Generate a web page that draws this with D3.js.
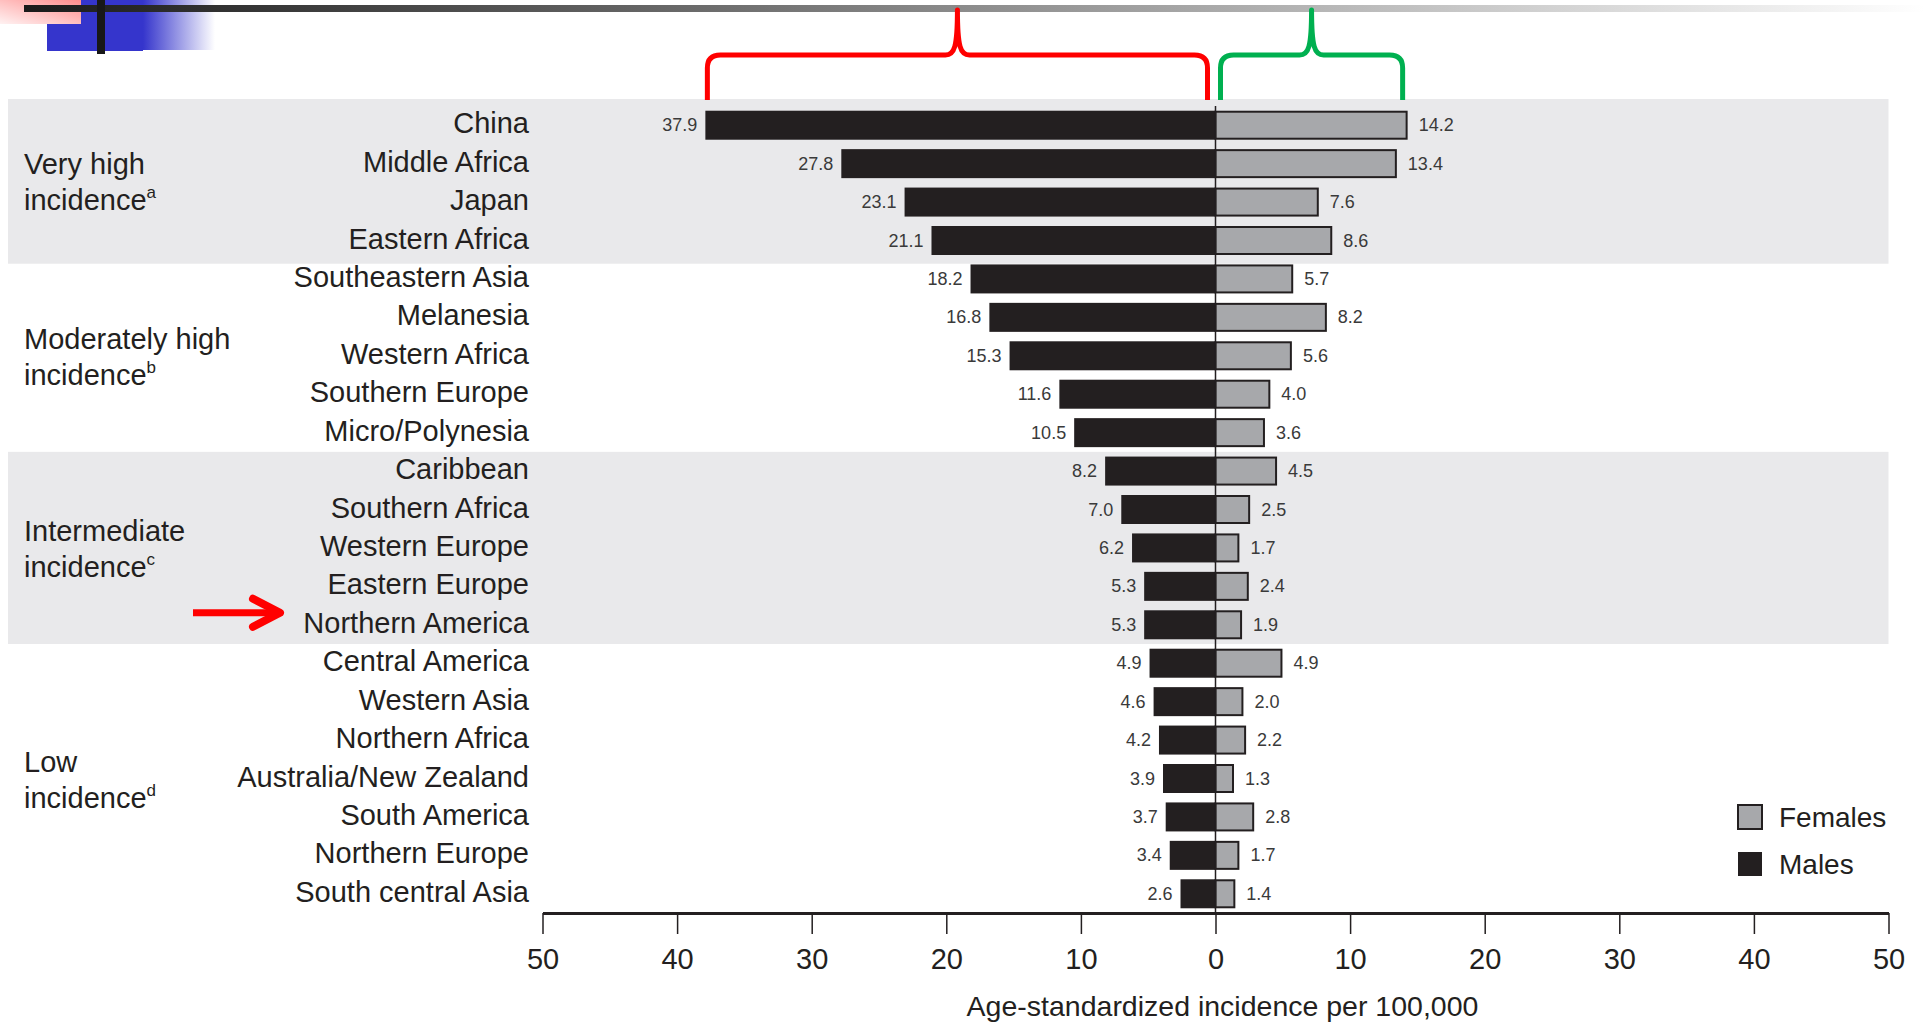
<!DOCTYPE html>
<html>
<head>
<meta charset="utf-8">
<script src="https://cdn.jsdelivr.net/npm/d3@7"></script>
<style>
  body { margin: 0; background: #fff; }
  svg { display: block; font-family: "Liberation Sans", Arial, sans-serif; }
</style>
</head>
<body>
<div id="chart"></div>
<script>
// Data
const countries = ["China", "Middle Africa", "Japan", "Eastern Africa", "Southeastern Asia",
  "Melanesia", "Western Africa", "Southern Europe", "Micro/Polynesia", "Caribbean",
  "Southern Africa", "Western Europe", "Eastern Europe", "Northern America", "Central America",
  "Western Asia", "Northern Africa", "Australia/New Zealand", "South America", "Northern Europe",
  "South central Asia"];
const males = [37.9, 27.8, 23.1, 21.1, 18.2, 16.8, 15.3, 11.6, 10.5, 8.2, 7.0, 6.2, 5.3, 5.3,
  4.9, 4.6, 4.2, 3.9, 3.7, 3.4, 2.6];
const females = [14.2, 13.4, 7.6, 8.6, 5.7, 8.2, 5.6, 4.0, 3.6, 4.5, 2.5, 1.7, 2.4, 1.9,
  4.9, 2.0, 2.2, 1.3, 2.8, 1.7, 1.4];
const groupNames = ["Very high", "Moderately high", "Intermediate", "Low"];
const groupSups = ["a", "b", "c", "d"];
const groupSizes = [4, 5, 5, 7];
const tickValues = [-50, -40, -30, -20, -10, 0, 10, 20, 30, 40, 50];
const legendLabels = ["Females", "Males"];
const axisTitle = "Age-standardized incidence per 100,000";

// Constants
const width = 1925, height = 1026;
const ink = "#231f20", femaleFill = "#a7a8ab", bandFill = "#e9e9eb";

const svg = d3.select("#chart").append("svg")
  .attr("width", width)
  .attr("height", height);

svg.append("rect").attr("width", width).attr("height", height).attr("fill", "#fff");

const x = d3.scaleLinear().domain([-50, 50]).range([542.5, 1888.5]);
const y = d3.scaleBand().domain(countries).range([106, 913]);
const barH = 29;
const rows = countries.map((c, i) => ({ name: c, m: males[i], f: females[i] }));

// Decorative header
const defs = svg.append("defs");
const g1 = defs.append("linearGradient").attr("id", "lineGrad")
  .attr("gradientUnits", "userSpaceOnUse").attr("x1", 24).attr("x2", 1925).attr("y1", 0).attr("y2", 0);
g1.append("stop").attr("offset", 0).attr("stop-color", "#1a1a1a");
g1.append("stop").attr("offset", 1).attr("stop-color", "#ffffff");
const g2 = defs.append("linearGradient").attr("id", "blueGrad")
  .attr("x1", 0).attr("x2", 1).attr("y1", 0).attr("y2", 0);
g2.append("stop").attr("offset", 0).attr("stop-color", "#3535cc");
g2.append("stop").attr("offset", 1).attr("stop-color", "#ffffff");
const g3 = defs.append("linearGradient").attr("id", "redGrad")
  .attr("x1", 0).attr("x2", 1).attr("y1", 1).attr("y2", 0);
g3.append("stop").attr("offset", 0).attr("stop-color", "#fff2f2");
g3.append("stop").attr("offset", 1).attr("stop-color", "#ff8c8c");

svg.append("rect").attr("x", 47).attr("y", 0).attr("width", 96).attr("height", 51).attr("fill", "#3535cc");
svg.append("rect").attr("x", 143).attr("y", 0).attr("width", 72).attr("height", 50).attr("fill", "url(#blueGrad)");
svg.append("rect").attr("x", 0).attr("y", 0).attr("width", 81).attr("height", 24).attr("fill", "url(#redGrad)");
svg.append("rect").attr("x", 24).attr("y", 5).attr("width", 1901).attr("height", 7).attr("fill", "url(#lineGrad)");
svg.append("rect").attr("x", 97).attr("y", 0).attr("width", 8).attr("height", 54).attr("fill", "#181818");

// Group bands and labels
let start = 0;
groupNames.forEach((name, gi) => {
  const first = countries[start], last = countries[start + groupSizes[gi] - 1];
  const top = gi === 0 ? y(first) - 7 : y(first);
  const bottom = y(last) + y.bandwidth() + (gi === 0 ? 4 : 0);
  if (gi % 2 === 0) {
    svg.append("rect")
      .attr("x", 8).attr("y", top)
      .attr("width", x(50) - 8).attr("height", bottom - top)
      .attr("fill", bandFill);
  }
  const cy = (top + bottom) / 2;
  svg.append("text")
    .attr("x", 24).attr("y", cy - 17)
    .attr("dominant-baseline", "central")
    .attr("font-size", 29).attr("fill", ink)
    .text(name);
  const t2 = svg.append("text")
    .attr("x", 24).attr("y", cy + 19)
    .attr("dominant-baseline", "central")
    .attr("font-size", 29).attr("fill", ink);
  t2.append("tspan").text("incidence");
  t2.append("tspan").attr("font-size", 17).attr("dy", -8).text(groupSups[gi]);
  start += groupSizes[gi];
});

// Country labels
svg.append("g").selectAll("text")
  .data(rows).enter().append("text")
    .attr("x", 529)
    .attr("y", d => y(d.name) + y.bandwidth() / 2 - 2)
    .attr("text-anchor", "end")
    .attr("dominant-baseline", "central")
    .attr("font-size", 29).attr("fill", ink)
    .text(d => d.name);

// Bars
const bars = svg.append("g");
bars.selectAll(".male").data(rows).enter().append("rect")
  .attr("class", "male")
  .attr("x", d => x(-d.m)).attr("width", d => x(0) - x(-d.m))
  .attr("y", d => y(d.name) + (y.bandwidth() - barH) / 2).attr("height", barH)
  .attr("fill", ink);
bars.selectAll(".female").data(rows).enter().append("rect")
  .attr("class", "female")
  .attr("x", x(0)).attr("width", d => x(d.f) - x(0))
  .attr("y", d => y(d.name) + (y.bandwidth() - barH) / 2 + 1).attr("height", barH - 2)
  .attr("fill", femaleFill).attr("stroke", ink).attr("stroke-width", 2);

// Value labels
svg.append("g").selectAll("text").data(rows).enter().append("text")
  .attr("x", d => x(-d.m) - 8)
  .attr("y", d => y(d.name) + y.bandwidth() / 2)
  .attr("text-anchor", "end").attr("dominant-baseline", "central")
  .attr("font-size", 18).attr("fill", "#3a3a3a")
  .text(d => d.m.toFixed(1));
svg.append("g").selectAll("text").data(rows).enter().append("text")
  .attr("x", d => x(d.f) + 12)
  .attr("y", d => y(d.name) + y.bandwidth() / 2)
  .attr("dominant-baseline", "central")
  .attr("font-size", 18).attr("fill", "#3a3a3a")
  .text(d => d.f.toFixed(1));

// Zero line
svg.append("line")
  .attr("x1", x(0)).attr("x2", x(0))
  .attr("y1", y.range()[0]).attr("y2", y.range()[1])
  .attr("stroke", ink).attr("stroke-width", 1.5);

// Axis
const axis = svg.append("g")
  .attr("transform", `translate(0, ${y.range()[1]})`)
  .call(d3.axisBottom(x).tickValues(tickValues).tickFormat(d => Math.abs(d))
    .tickSize(21).tickSizeOuter(0).tickPadding(14));
axis.select(".domain").attr("stroke", ink).attr("stroke-width", 3);
axis.selectAll(".tick line").attr("stroke", ink).attr("stroke-width", 1.5);
axis.selectAll(".tick text")
  .attr("font-size", 29).attr("fill", ink)
  .attr("font-family", "'Liberation Sans Narrow', 'Liberation Sans', Arial, sans-serif");

svg.append("text")
  .attr("x", x(0) + 7).attr("y", 1006)
  .attr("text-anchor", "middle").attr("dominant-baseline", "central")
  .attr("font-size", 28.5).attr("fill", ink)
  .text(axisTitle);

// Legend
const legend = svg.append("g").selectAll("g").data(legendLabels).enter().append("g")
  .attr("transform", (d, i) => `translate(1738, ${805 + i * 47})`);
legend.append("rect")
  .attr("width", 24).attr("height", 24)
  .attr("fill", (d, i) => i === 0 ? femaleFill : ink)
  .attr("stroke", ink).attr("stroke-width", (d, i) => i === 0 ? 2 : 0);
legend.append("text")
  .attr("x", 41).attr("y", 12)
  .attr("dominant-baseline", "central")
  .attr("font-size", 28).attr("fill", ink)
  .text(d => d);

// Braces over male and female maxima
const brace = (x0, x1, color) => {
  const mid = (x0 + x1) / 2, yb = 100, yh = 55, yp = 10, r = 13;
  const p = `M${x0},${yb} L${x0},${yh + r} Q${x0},${yh} ${x0 + r},${yh} L${mid - 12},${yh}`
    + ` C${mid - 3},${yh} ${mid},${yh - 8} ${mid},${yp}`
    + ` C${mid},${yh - 8} ${mid + 3},${yh} ${mid + 12},${yh}`
    + ` L${x1 - r},${yh} Q${x1},${yh} ${x1},${yh + r} L${x1},${yb}`;
  svg.append("path").attr("d", p).attr("fill", "none")
    .attr("stroke", color).attr("stroke-width", 5).attr("stroke-linejoin", "round");
};
brace(x(-d3.max(males)) + 2, x(0) - 8, "#ff0000");
brace(x(0) + 5, x(d3.max(females)) - 4, "#00b050");

// Arrow pointing at Northern America
const ay = y("Northern America") + y.bandwidth() / 2 - 12;
svg.append("line").attr("x1", 193).attr("x2", 278).attr("y1", ay).attr("y2", ay)
  .attr("stroke", "#ff0000").attr("stroke-width", 7);
svg.append("path")
  .attr("d", `M253,${ay - 14} L280,${ay} L253,${ay + 14}`)
  .attr("fill", "none").attr("stroke", "#ff0000").attr("stroke-width", 8)
  .attr("stroke-linecap", "round").attr("stroke-linejoin", "round");
</script>
</body>
</html>
